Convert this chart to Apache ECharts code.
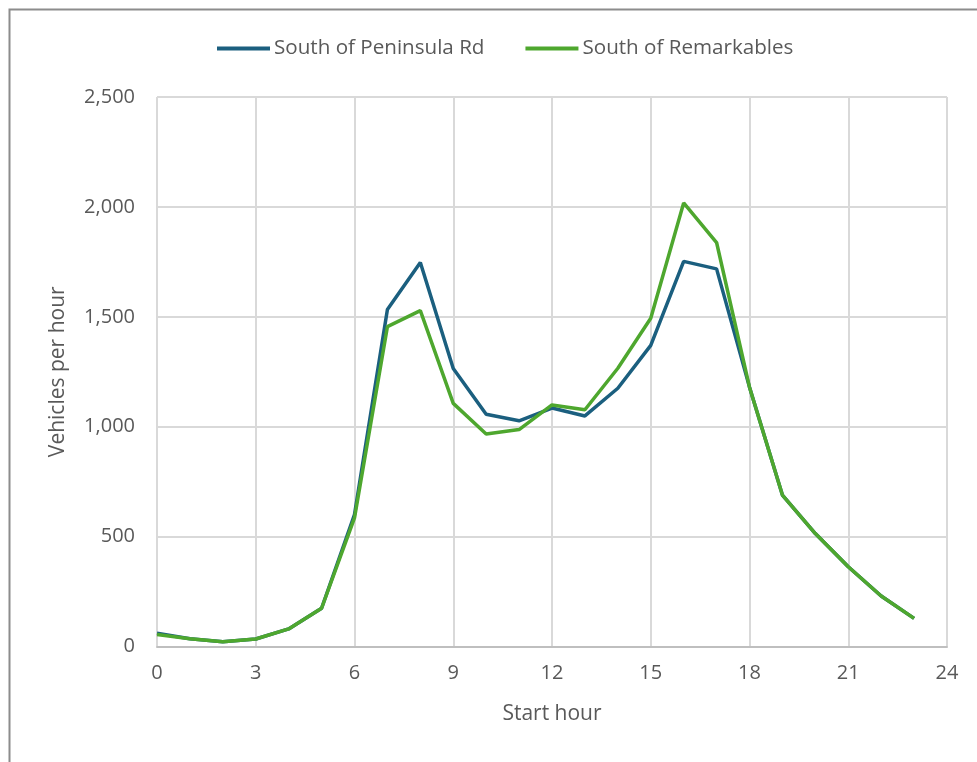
<!DOCTYPE html>
<html>
<head>
<meta charset="utf-8">
<script src="https://cdn.jsdelivr.net/npm/echarts@6/dist/echarts.min.js"></script>
<style>
html,body{margin:0;padding:0;background:#fff;}
#chart{width:977px;height:762px;}
</style>
</head>
<body>
<div id="chart"></div>
<script>
const hours = [0,1,2,3,4,5,6,7,8,9,10,11,12,13,14,15,16,17,18,19,20,21,22,23];
const peninsula = [60,35,22,34,80,174,600,1533,1747,1265,1057,1027,1085,1049,1175,1370,1752,1718,1180,689,514,363,230,128];
const remarkables = [55,35,22,34,80,174,585,1455,1528,1106,967,987,1099,1077,1266,1493,2018,1838,1180,689,514,363,230,128];
const seriesNames = ['South of Peninsula Rd','South of Remarkables'];
const xTitle = 'Start hour';
const yTitle = 'Vehicles per hour';

const font = '"Open Sans", Lato, sans-serif';
const txt = '#595959';
const chart = echarts.init(document.getElementById('chart'));
chart.setOption({
  animation:false,
  backgroundColor:'#fff',
  graphic:[{type:'rect',left:7,top:7,shape:{width:1000,height:1000},style:{fill:'none',stroke:'#8c8c8c',lineWidth:2},silent:true}],
  legend:{
    top:33, left:212, itemWidth:53, itemHeight:4, itemGap:41,
    icon:'rect',
    textStyle:{fontFamily:font,fontSize:20.6,color:txt,padding:[0,0,0,-1]},
    data:seriesNames
  },
  grid:{left:157,right:30,top:97,bottom:115.5},
  xAxis:{
    type:'value',min:0,max:24,interval:3,
    name:xTitle,nameLocation:'middle',nameGap:57,
    nameTextStyle:{fontFamily:font,fontSize:21,color:txt},
    axisLine:{show:true,lineStyle:{color:'#bfbfbf',width:2}},
    axisTick:{show:false},
    axisLabel:{fontFamily:font,fontSize:20,color:txt,margin:17},
    splitLine:{show:true,lineStyle:{color:'#d9d9d9',width:2}}
  },
  yAxis:{
    type:'value',min:0,max:2500,interval:500,
    name:yTitle,nameLocation:'middle',nameGap:88,nameRotate:90,
    nameTextStyle:{fontFamily:font,fontSize:21,color:txt},
    axisLine:{show:false},axisTick:{show:false},
    axisLabel:{fontFamily:font,fontSize:20,color:txt,margin:22,
      formatter:v=>v.toLocaleString('en-US')},
    splitLine:{show:true,lineStyle:{color:'#d9d9d9',width:2}}
  },
  series:[
    {name:seriesNames[0],type:'line',showSymbol:false,symbol:'none',
     data:hours.map((h,i)=>[h,peninsula[i]]),
     lineStyle:{color:'#1b5f7f',width:3.5},itemStyle:{color:'#1b5f7f'}},
    {name:seriesNames[1],type:'line',showSymbol:false,symbol:'none',
     data:hours.map((h,i)=>[h,remarkables[i]]),
     lineStyle:{color:'#4ea72e',width:3.5},itemStyle:{color:'#4ea72e'}}
  ]
});
</script>
</body>
</html>
